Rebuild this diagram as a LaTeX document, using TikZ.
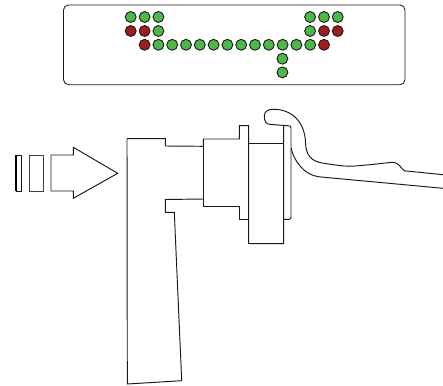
\documentclass[tikz,border=0pt]{standalone}
\definecolor{ledgreen}{HTML}{4DB848}
\definecolor{ledred}{HTML}{9E1B20}
\tikzset{
  outline/.style={draw=black!90,line width=0.95pt,line join=miter},
  led/.style={circle,draw=black!90,line width=0.9pt,minimum size=10.9pt,inner sep=0pt},
  on/.style={led,fill=ledgreen},
  off/.style={led,fill=ledred}
}
\begin{document}
\begin{tikzpicture}[x=1pt,y=-1pt]
\useasboundingbox (0,0) rectangle (443,385);
\node[draw=black!90,line width=0.85pt,rounded corners=5pt,minimum width=341.5pt,minimum height=79.7pt,inner sep=0pt] (panel) at (234.25,44.85) {};
% top rows
\foreach \n/\x/\y/\s in {a1/130.7/17/on,a2/144.6/17/on,a3/158.4/17/on,
  b1/130.7/31/off,b2/144.6/31/off,b3/158.4/31/on,
  c1/310.1/17/on,c2/324/17/on,c3/337.7/17/on,
  d1/310.1/31/on,d2/324/31/off,d3/337.7/31/off,
  v1/282.4/58.7/on,v2/282.4/72.4/on}
  \node[\s] (\n) at (\x,\y) {};
% long row
\foreach \i/\s in {0/off,1/on,2/on,3/on,4/on,5/on,6/on,7/on,8/on,9/on,10/on,11/on,12/on,13/off}
  \node[\s] (r\i) at ({144.6+\i*13.8},44.8) {};
% arrow group
\node[draw=black!90,line width=0.8pt,minimum width=5.2pt,minimum height=36pt,inner sep=0pt] (thin) at (19,173) {};
\draw[line width=1.3pt,draw=black] (thin.north west) -- (thin.south west);
\node[draw=black!75,line width=0.95pt,minimum width=14pt,minimum height=36pt,inner sep=0pt] (wide) at (36.3,173) {};
\draw[outline] (51,155) -- (73.3,155) -- (73.3,147.3) -- (117.7,173.3) -- (73.3,198.3) -- (73.3,191) -- (51,191) -- cycle;
% handle body
\draw[outline] (127,138.7) -- (165.3,138.7) -- (165.3,146) -- (203.3,146.3) -- (203.3,139) -- (239.3,139) -- (239.3,125.7) -- (248.7,125.7) -- (248.7,243.7) -- (283.7,243.7) -- (283.7,126);
\draw[outline] (248.7,143.3) -- (283.7,143.3);
\draw[outline] (203.3,146.3) -- (203.3,206) -- (239.3,206) -- (239.3,219.3) -- (248.7,219.3);
\draw[outline] (203.3,199) -- (165.3,199.5) -- (165.3,212.3) -- (174.3,212.3) -- (181.7,380.7) -- (127.3,384) -- (127,138.7);
% rim
\draw[outline] (283.7,219.3) -- (289,219.3) .. controls (290.5,219.3) and (291,218.5) .. (291,217) -- (291,128) .. controls (291,126.5) and (290.5,126) .. (289,125.8) -- (270,124.4)
  .. controls (266,124.2) and (264.3,121) .. (264.3,116.5) .. controls (264.3,111) and (268,109.3) .. (273.5,109.3)
  .. controls (292,109.3) and (305,122) .. (305.5,143) .. controls (306,155) and (311,161) .. (322,163)
  .. controls (332,164.5) and (342,166.3) .. (351,166.2) .. controls (365,165.5) and (380,163.5) .. (391,162.4)
  .. controls (396,162) and (398,164) .. (400,166) .. controls (401.5,167.5) and (402.5,170) .. (404.5,170.8) -- (443,174.7);
\draw[outline] (291,148) .. controls (294,161) and (304,175) .. (319,176.8) -- (443,188.3);
\end{tikzpicture}
\end{document}
